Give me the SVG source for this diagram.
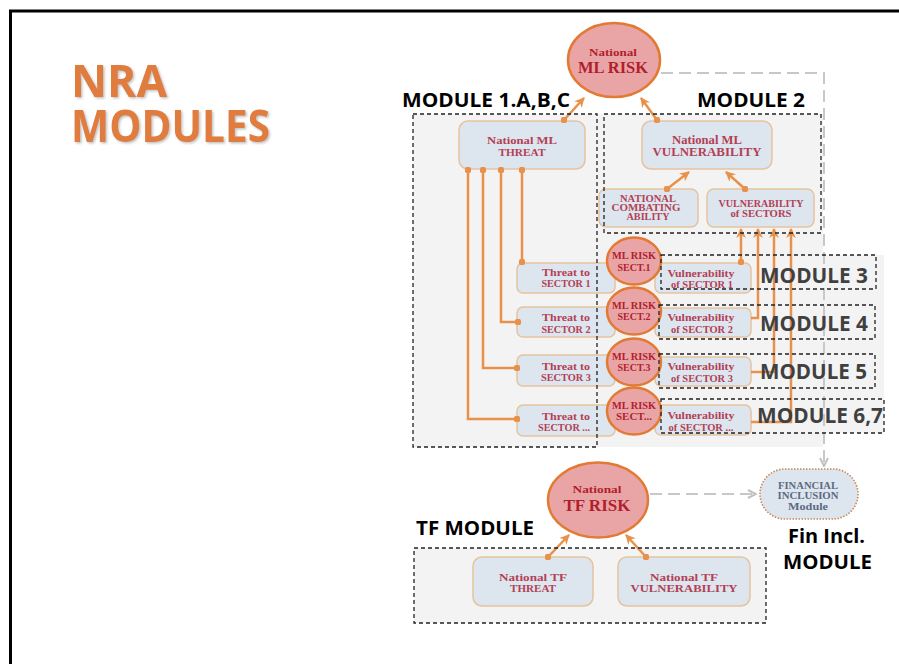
<svg xmlns="http://www.w3.org/2000/svg" width="899" height="664" viewBox="0 0 899 664">
  <style>
    .frame { stroke: #000; stroke-width: 3; fill: none; }
    .title { font-family: "Open Sans", "Liberation Sans", sans-serif; font-weight: bold; font-size: 45px; fill: #e07b3c; }
    .lbl { font-family: "Open Sans", "Liberation Sans", sans-serif; font-weight: bold; font-size: 19px; fill: #000; }
    .lblg { font-family: "Open Sans", "Liberation Sans", sans-serif; font-weight: bold; font-size: 22px; fill: #404040; }
    .box { fill: #dde5ee; stroke: #e6c39f; stroke-width: 1.5; }
    .risk { fill: #e9a5a5; stroke: #e27a34; stroke-width: 2.5; }
    .t { font-family: "Liberation Serif", "DejaVu Serif", serif; font-weight: bold; fill: #b33f55; text-anchor: middle; }
    .tr { font-family: "Liberation Serif", "DejaVu Serif", serif; font-weight: bold; fill: #b11e2e; text-anchor: middle; }
    .fin { fill: #dde5ee; stroke: #c9875a; stroke-width: 1.6; stroke-dasharray: 1.5 1.5; }
    .tf { font-family: "Liberation Serif", "DejaVu Serif", serif; font-weight: bold; fill: #5b6a82; text-anchor: middle; font-size: 10px; }
    .wire { fill: none; stroke: #e8914b; stroke-width: 2.5; }
    .gwire { fill: none; stroke: #c8c8c8; stroke-width: 2; stroke-dasharray: 12 6; }
    .mod { fill: none; stroke: #222; stroke-width: 1.3; stroke-dasharray: 4 3; }
    .back { fill: #f3f3f3; }
  </style>
  <defs>
    <filter id="soft-shadow" x="-10%" y="-10%" width="130%" height="140%">
      <feDropShadow dx="1.5" dy="1.5" stdDeviation="0.8" flood-color="#999" flood-opacity="0.6"/>
    </filter>
    <marker id="arr" viewBox="0 0 10 10" refX="9" refY="5" markerWidth="4" markerHeight="4" orient="auto">
      <path d="M0,0 L10,5 L0,10 L3,5 z" fill="#e8914b"/>
    </marker>
    <marker id="dot" viewBox="0 0 10 10" refX="5" refY="5" markerWidth="2.6" markerHeight="2.6">
      <circle cx="5" cy="5" r="5" fill="#e8914b"/>
    </marker>
    <marker id="garr" viewBox="0 0 10 10" refX="9" refY="5" markerWidth="5" markerHeight="5" orient="auto">
      <path d="M1,1 L9,5 L1,9" fill="none" stroke="#c0c0c0" stroke-width="2"/>
    </marker>
  </defs>

  <!-- slide frame -->
  <path class="frame" d="M10.5,664 V11 H899"/>

  <!-- title, two lines in one text block -->
  <g id="title" filter="url(#soft-shadow)">
    <text class="title"><tspan x="71" y="97" textLength="96" lengthAdjust="spacingAndGlyphs">NRA</tspan><tspan x="71" y="142" textLength="199" lengthAdjust="spacingAndGlyphs">MODULES</tspan></text>
  </g>

  <!-- light backdrops of the module areas -->
  <g id="backdrops">
    <rect class="back" x="413" y="114" width="410" height="333"/>
    <rect class="back" x="659" y="255" width="225" height="178"/>
    <rect class="back" x="414" y="548" width="352" height="75"/>
  </g>

  <!-- nodes -->
  <g id="ml-risk">
    <ellipse class="risk" cx="614" cy="60" rx="46" ry="37"/>
    <text class="tr" x="613" y="56" font-size="11" textLength="48" lengthAdjust="spacingAndGlyphs">National</text>
    <text class="tr" x="613" y="73" font-size="16" textLength="70" lengthAdjust="spacingAndGlyphs">ML RISK</text>
  </g>
  <g id="ml-threat">
    <rect class="box" x="459" y="121" width="126" height="48" rx="9"/>
    <text class="t" x="522" y="143.5" font-size="11" textLength="70" lengthAdjust="spacingAndGlyphs">National ML</text>
    <text class="t" x="522" y="155.5" font-size="11" textLength="47" lengthAdjust="spacingAndGlyphs">THREAT</text>
  </g>
  <g id="ml-vulnerability">
    <rect class="box" x="642" y="121" width="130" height="48" rx="9"/>
    <text class="t" x="707" y="143.5" font-size="11.5" textLength="70" lengthAdjust="spacingAndGlyphs">National ML</text>
    <text class="t" x="707" y="156" font-size="11.5" textLength="109" lengthAdjust="spacingAndGlyphs">VULNERABILITY</text>
  </g>
  <g id="combating-ability">
    <rect class="box" x="599" y="189" width="99" height="38" rx="7"/>
    <text class="t" x="648" y="202" font-size="9.5" textLength="56" lengthAdjust="spacingAndGlyphs">NATIONAL</text>
    <text class="t" x="646" y="211" font-size="9.5" textLength="69" lengthAdjust="spacingAndGlyphs">COMBATING</text>
    <text class="t" x="648" y="220" font-size="9.5" textLength="43" lengthAdjust="spacingAndGlyphs">ABILITY</text>
  </g>
  <g id="sectors-vulnerability">
    <rect class="box" x="707" y="189" width="107" height="38" rx="7"/>
    <text class="t" x="761" y="206.5" font-size="10" textLength="85" lengthAdjust="spacingAndGlyphs">VULNERABILITY</text>
    <text class="t" x="761" y="217" font-size="10" textLength="61" lengthAdjust="spacingAndGlyphs">of SECTORS</text>
  </g>

  <g id="threat-1">
    <rect class="box" x="517" y="263" width="98" height="30" rx="6"/>
    <text class="t" x="566" y="275.5" font-size="10" textLength="48" lengthAdjust="spacingAndGlyphs">Threat to</text>
    <text class="t" x="566" y="286.5" font-size="10" textLength="49" lengthAdjust="spacingAndGlyphs">SECTOR 1</text>
  </g>
  <g id="threat-2">
    <rect class="box" x="517" y="307" width="98" height="30" rx="6"/>
    <text class="t" x="566" y="320.5" font-size="10" textLength="48" lengthAdjust="spacingAndGlyphs">Threat to</text>
    <text class="t" x="566" y="332.5" font-size="10" textLength="49" lengthAdjust="spacingAndGlyphs">SECTOR 2</text>
  </g>
  <g id="threat-3">
    <rect class="box" x="517" y="355" width="98" height="31" rx="6"/>
    <text class="t" x="566" y="369.5" font-size="10" textLength="48" lengthAdjust="spacingAndGlyphs">Threat to</text>
    <text class="t" x="566" y="380.5" font-size="10" textLength="50" lengthAdjust="spacingAndGlyphs">SECTOR 3</text>
  </g>
  <g id="threat-n">
    <rect class="box" x="517" y="405" width="98" height="31" rx="6"/>
    <text class="t" x="566" y="419.5" font-size="10" textLength="48" lengthAdjust="spacingAndGlyphs">Threat to</text>
    <text class="t" x="564" y="430.5" font-size="10" textLength="52" lengthAdjust="spacingAndGlyphs">SECTOR ...</text>
  </g>

  <g id="vuln-1">
    <rect class="box" x="655" y="263" width="96" height="30" rx="6"/>
    <text class="t" x="701" y="276.5" font-size="10" textLength="67" lengthAdjust="spacingAndGlyphs">Vulnerability</text>
    <text class="t" x="702" y="287.5" font-size="10" textLength="62" lengthAdjust="spacingAndGlyphs">of SECTOR 1</text>
  </g>
  <g id="vuln-2">
    <rect class="box" x="655" y="308" width="96" height="29" rx="6"/>
    <text class="t" x="701" y="320.5" font-size="10" textLength="67" lengthAdjust="spacingAndGlyphs">Vulnerability</text>
    <text class="t" x="702" y="332.5" font-size="10" textLength="62" lengthAdjust="spacingAndGlyphs">of SECTOR 2</text>
  </g>
  <g id="vuln-3">
    <rect class="box" x="655" y="357" width="96" height="29" rx="6"/>
    <text class="t" x="701" y="369.5" font-size="10" textLength="67" lengthAdjust="spacingAndGlyphs">Vulnerability</text>
    <text class="t" x="702" y="381.5" font-size="10" textLength="62" lengthAdjust="spacingAndGlyphs">of SECTOR 3</text>
  </g>
  <g id="vuln-n">
    <rect class="box" x="655" y="405" width="96" height="30" rx="6"/>
    <text class="t" x="701" y="418.5" font-size="10" textLength="67" lengthAdjust="spacingAndGlyphs">Vulnerability</text>
    <text class="t" x="701" y="430.5" font-size="10" textLength="65" lengthAdjust="spacingAndGlyphs">of SECTOR ...</text>
  </g>

  <g id="risk-sect-1">
    <ellipse class="risk" cx="634" cy="261" rx="27" ry="23.5"/>
    <text class="tr" x="634" y="258.5" font-size="10" textLength="44" lengthAdjust="spacingAndGlyphs">ML RISK</text>
    <text class="tr" x="634" y="270.5" font-size="10" textLength="33" lengthAdjust="spacingAndGlyphs">SECT.1</text>
  </g>
  <g id="risk-sect-2">
    <ellipse class="risk" cx="634" cy="311" rx="27" ry="23.5"/>
    <text class="tr" x="634" y="308.5" font-size="10" textLength="44" lengthAdjust="spacingAndGlyphs">ML RISK</text>
    <text class="tr" x="634" y="320" font-size="10" textLength="33" lengthAdjust="spacingAndGlyphs">SECT.2</text>
  </g>
  <g id="risk-sect-3">
    <ellipse class="risk" cx="634" cy="362" rx="27" ry="23.5"/>
    <text class="tr" x="634" y="359.5" font-size="10" textLength="44" lengthAdjust="spacingAndGlyphs">ML RISK</text>
    <text class="tr" x="634" y="370.5" font-size="10" textLength="33" lengthAdjust="spacingAndGlyphs">SECT.3</text>
  </g>
  <g id="risk-sect-n">
    <ellipse class="risk" cx="634" cy="411" rx="27" ry="23.5"/>
    <text class="tr" x="634" y="408.5" font-size="10" textLength="44" lengthAdjust="spacingAndGlyphs">ML RISK</text>
    <text class="tr" x="634" y="419.5" font-size="10" textLength="36" lengthAdjust="spacingAndGlyphs">SECT...</text>
  </g>

  <g id="tf-risk">
    <ellipse class="risk" cx="598" cy="500" rx="50" ry="37.5"/>
    <text class="tr" x="597" y="493" font-size="11" textLength="49" lengthAdjust="spacingAndGlyphs">National</text>
    <text class="tr" x="597" y="511" font-size="16" textLength="67" lengthAdjust="spacingAndGlyphs">TF RISK</text>
  </g>
  <g id="tf-threat">
    <rect class="box" x="473" y="557" width="120" height="49" rx="9"/>
    <text class="t" x="533" y="580.5" font-size="11" textLength="68" lengthAdjust="spacingAndGlyphs">National TF</text>
    <text class="t" x="533" y="592" font-size="11" textLength="46" lengthAdjust="spacingAndGlyphs">THREAT</text>
  </g>
  <g id="tf-vulnerability">
    <rect class="box" x="618" y="557" width="132" height="49" rx="9"/>
    <text class="t" x="684" y="580.5" font-size="11" textLength="68" lengthAdjust="spacingAndGlyphs">National TF</text>
    <text class="t" x="684" y="592" font-size="11" textLength="107" lengthAdjust="spacingAndGlyphs">VULNERABILITY</text>
  </g>
  <g id="financial-inclusion">
    <rect class="fin" x="760" y="469" width="98" height="50" rx="25"/>
    <text class="tf" x="808" y="488.5" textLength="60" lengthAdjust="spacingAndGlyphs">FINANCIAL</text>
    <text class="tf" x="808" y="499" textLength="61" lengthAdjust="spacingAndGlyphs">INCLUSION</text>
    <text class="tf" x="808" y="509.5" textLength="40" lengthAdjust="spacingAndGlyphs">Module</text>
  </g>

  <!-- connectors -->
  <g id="connectors">
    <path class="wire" d="M564,120 L584,98" marker-start="url(#dot)" marker-end="url(#arr)"/>
    <path class="wire" d="M657,120 L641,98" marker-start="url(#dot)" marker-end="url(#arr)"/>
    <path class="wire" d="M667,189 L689,172" marker-start="url(#dot)" marker-end="url(#arr)"/>
    <path class="wire" d="M745,189 L726,172" marker-start="url(#dot)" marker-end="url(#arr)"/>

    <path class="wire" d="M522,170 V262" marker-start="url(#dot)" marker-end="url(#dot)"/>
    <path class="wire" d="M501,170 V322 H518" marker-start="url(#dot)" marker-end="url(#dot)"/>
    <path class="wire" d="M483,170 V368 H517" marker-start="url(#dot)" marker-end="url(#dot)"/>
    <path class="wire" d="M468,170 V419 H517" marker-start="url(#dot)" marker-end="url(#dot)"/>

    <path class="wire" d="M741,262 V229" marker-start="url(#dot)" marker-end="url(#arr)"/>
    <path class="wire" d="M751,318 H758 V229" marker-end="url(#arr)"/>
    <path class="wire" d="M751,372 H774 V229" marker-end="url(#arr)"/>
    <path class="wire" d="M751,422 H791 V229" marker-end="url(#arr)"/>

    <path class="wire" d="M548,557 L569,535" marker-start="url(#dot)" marker-end="url(#arr)"/>
    <path class="wire" d="M646,557 L626,535" marker-start="url(#dot)" marker-end="url(#arr)"/>

    <path class="gwire" d="M661,73 H824 V466" marker-end="url(#garr)"/>
    <path class="gwire" d="M650,494 H756" marker-end="url(#garr)"/>
  </g>

  <!-- module frames and labels -->
  <g id="modules">
    <rect class="mod" x="413" y="114" width="184" height="333"/>
    <rect class="mod" x="604" y="114" width="217" height="119"/>
    <rect class="mod" x="661" y="255" width="215" height="34"/>
    <rect class="mod" x="659" y="305" width="216" height="34"/>
    <rect class="mod" x="659" y="354" width="216" height="34"/>
    <rect class="mod" x="661" y="399" width="223" height="34"/>
    <rect class="mod" x="414" y="548" width="352" height="75"/>

    <text class="lbl" x="402" y="107" textLength="168" lengthAdjust="spacingAndGlyphs">MODULE 1.A,B,C</text>
    <text class="lbl" x="697" y="107" textLength="108" lengthAdjust="spacingAndGlyphs">MODULE 2</text>
    <text class="lblg" x="760" y="283" textLength="108" lengthAdjust="spacingAndGlyphs">MODULE 3</text>
    <text class="lblg" x="760" y="331" textLength="108" lengthAdjust="spacingAndGlyphs">MODULE 4</text>
    <text class="lblg" x="760" y="379" textLength="107" lengthAdjust="spacingAndGlyphs">MODULE 5</text>
    <text class="lblg" x="757" y="423" textLength="126" lengthAdjust="spacingAndGlyphs">MODULE 6,7</text>
    <text class="lbl" x="416" y="535" textLength="118" lengthAdjust="spacingAndGlyphs">TF MODULE</text>
    <text class="lbl" x="788" y="543" textLength="77" lengthAdjust="spacingAndGlyphs">Fin Incl.</text>
    <text class="lbl" x="783" y="569" textLength="89" lengthAdjust="spacingAndGlyphs">MODULE</text>
  </g>
</svg>
